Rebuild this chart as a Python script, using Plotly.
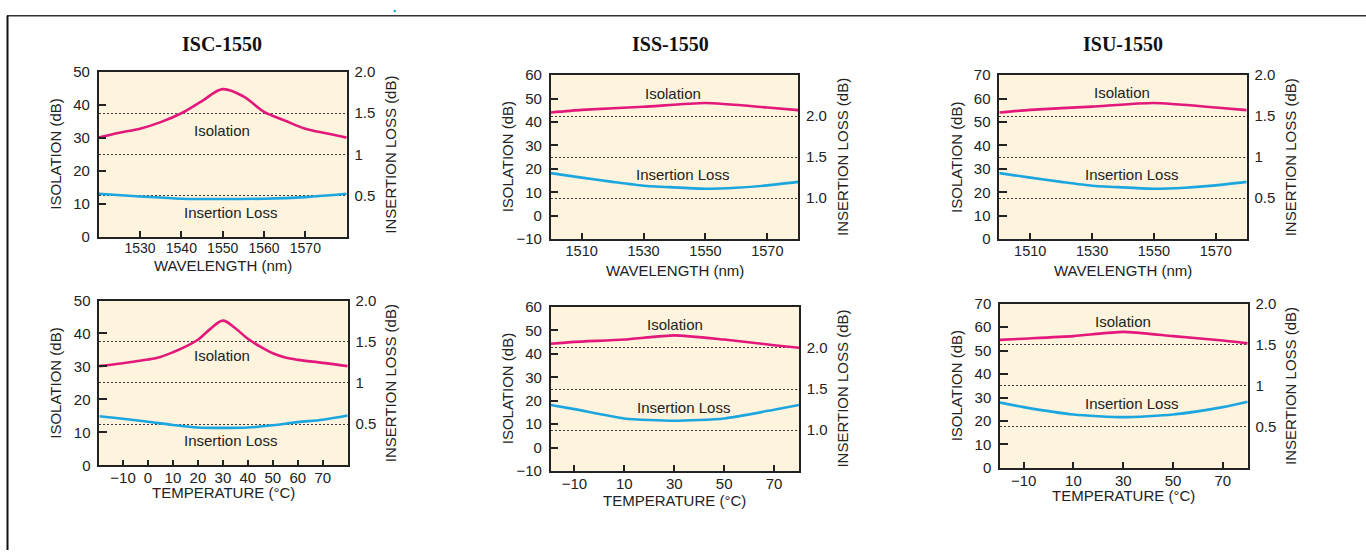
import plotly.graph_objects as go

W, H = 1366, 558

# ---------------- data ----------------
titles = ["ISC-1550", "ISS-1550", "ISU-1550"]

# ISC-1550 vs wavelength
isc_wl_x = [1520, 1525, 1530, 1535, 1540, 1545, 1550, 1555, 1560, 1565, 1570, 1575, 1580]
isc_wl_iso = [30.1, 31.6, 32.8, 34.8, 37.5, 41.2, 44.8, 42.6, 37.9, 35.3, 32.8, 31.4, 30.1]
isc_wl_x_il = [1520, 1530, 1540, 1550, 1560, 1570, 1580]
isc_wl_il = [0.522, 0.49, 0.463, 0.459, 0.463, 0.482, 0.522]

# ISS-1550 vs wavelength
iss_wl_x = [1500, 1510, 1530, 1550, 1570, 1580]
iss_wl_iso = [44.1, 45.2, 46.5, 48.1, 46.2, 45.1]
iss_wl_x_il = [1500, 1510, 1520, 1530, 1540, 1550, 1560, 1570, 1580]
iss_wl_il = [1.305, 1.25, 1.198, 1.151, 1.131, 1.115, 1.127, 1.155, 1.198]

# ISU-1550 vs wavelength
isu_wl_x = [1500, 1510, 1530, 1550, 1570, 1580]
isu_wl_iso = [54.1, 55.2, 56.6, 58.1, 56.2, 55.1]
isu_wl_x_il = [1500, 1510, 1520, 1530, 1540, 1550, 1560, 1570, 1580]
isu_wl_il = [0.805, 0.75, 0.698, 0.651, 0.631, 0.615, 0.627, 0.655, 0.698]

# ISC-1550 vs temperature
isc_t_x = [-19.5, -10, 0, 5, 10, 15, 20, 25, 30, 35, 40, 45, 50, 55, 60, 70, 80]
isc_t_iso = [30.1, 31.0, 32.1, 32.9, 34.3, 36.0, 38.1, 41.4, 43.9, 41.6, 38.4, 36.0, 34.0, 32.7, 32.0, 31.1, 30.1]
isc_t_x_il = [-19.5, -10, 0, 10, 20, 30, 40, 50, 60, 70, 80]
isc_t_il = [0.596, 0.565, 0.529, 0.49, 0.459, 0.455, 0.459, 0.486, 0.525, 0.553, 0.604]

# ISS-1550 vs temperature
iss_t_x = [-19.5, -10, 10, 30, 50, 70, 80]
iss_t_iso = [44.3, 45.1, 46.1, 47.9, 46.1, 43.7, 42.6]
iss_t_il = [1.307, 1.256, 1.142, 1.114, 1.142, 1.248, 1.307]

# ISU-1550 vs temperature
isu_t_x = [-19.5, -10, 10, 30, 50, 70, 80]
isu_t_iso = [54.6, 55.1, 56.2, 58.0, 56.2, 54.3, 53.1]
isu_t_il = [0.795, 0.74, 0.65, 0.618, 0.65, 0.74, 0.807]

# tick labels
wl_ticks_isc = [1530, 1540, 1550, 1560, 1570]
wl_ticks_other = [1510, 1530, 1550, 1570]
t_ticks_isc = [-10, 0, 10, 20, 30, 40, 50, 60, 70]
t_ticks_other = [-10, 10, 30, 50, 70]
il_ticks_a = [0.5, 1.0, 1.5, 2.0]
il_text_a = ["0.5", "1", "1.5", "2.0"]
il_ticks_b = [1.0, 1.5, 2.0]
il_text_b = ["1.0", "1.5", "2.0"]

# ---------------- styling ----------------
MAG = "#E2187B"
BLU = "#1BA6E0"
BG = "#FEF3DC"
INK = "#222222"
SANS = "Liberation Sans, Arial, sans-serif"

panels = [
    dict(xi=isc_wl_x, iso=isc_wl_iso, xl=isc_wl_x_il, il=isc_wl_il, box=(98.7, 346.7, 65, 235),
         xr=[1520, 1580], xt=wl_ticks_isc, xfs=14, yr=[0, 50], yt=list(range(0, 51, 10)),
         y2r=[0, 2.0], y2t=il_ticks_a, y2s=il_text_a, xlab="WAVELENGTH (nm)", xlab_dy=30,
         lab_iso=(1549.8, 32.3), lab_il=(1551.9, 7.35), smooth=1.0),
    dict(xi=iss_wl_x, iso=iss_wl_iso, xl=iss_wl_x_il, il=iss_wl_il, box=(550.7, 798.3, 68.3, 237.3),
         xr=[1500, 1580], xt=wl_ticks_other, xfs=14.5, yr=[-10, 60], yt=list(range(-10, 61, 10)),
         y2r=[0.5, 2.5], y2t=il_ticks_b, y2s=il_text_b, xlab="WAVELENGTH (nm)", xlab_dy=32.7,
         lab_iso=(1539.6, 52.4), lab_il=(1542.6, 17.5), smooth=0.6),
    dict(xi=isu_wl_x, iso=isu_wl_iso, xl=isu_wl_x_il, il=isu_wl_il, box=(999.3, 1246.7, 68.3, 237.3),
         xr=[1500, 1580], xt=wl_ticks_other, xfs=14.5, yr=[0, 70], yt=list(range(0, 71, 10)),
         y2r=[0, 2.0], y2t=il_ticks_a, y2s=il_text_a, xlab="WAVELENGTH (nm)", xlab_dy=32.7,
         lab_iso=(1539.8, 62.7), lab_il=(1542.6, 27.5), smooth=0.6),
    dict(xi=isc_t_x, iso=isc_t_iso, xl=isc_t_x_il, il=isc_t_il, box=(99.3, 347.7, 300.7, 470.7),
         xr=[-19.5, 80], xt=t_ticks_isc, xfs=15, yr=[0, 50], yt=list(range(0, 51, 10)),
         y2r=[0, 2.0], y2t=il_ticks_a, y2s=il_text_a, xlab="TEMPERATURE (°C)", xlab_dy=28.5,
         lab_iso=(29.5, 33.4), lab_il=(33.1, 7.6), smooth=1.0),
    dict(xi=iss_t_x, iso=iss_t_iso, xl=iss_t_x, il=iss_t_il, box=(550.7, 799.0, 307.3, 476.7),
         xr=[-19.5, 80], xt=t_ticks_other, xfs=15, yr=[-10, 60], yt=list(range(-10, 61, 10)),
         y2r=[0.5, 2.5], y2t=il_ticks_b, y2s=il_text_b, xlab="TEMPERATURE (°C)", xlab_dy=30,
         lab_iso=(30.3, 52.7), lab_il=(33.6, 17.1), smooth=0.6),
    dict(xi=isu_t_x, iso=isu_t_iso, xl=isu_t_x, il=isu_t_il, box=(1000.0, 1247.7, 304.0, 473.3),
         xr=[-19.5, 80], xt=t_ticks_other, xfs=15, yr=[0, 70], yt=list(range(0, 71, 10)),
         y2r=[0, 2.0], y2t=il_ticks_a, y2s=il_text_a, xlab="TEMPERATURE (°C)", xlab_dy=29,
         lab_iso=(30.1, 62.4), lab_il=(33.5, 27.4), smooth=0.6),
]


def fx(px):
    return px / W


def fy(py):
    return 1 - py / H


fig = go.Figure()
layout = dict(
    width=W, height=H, margin=dict(l=0, r=0, t=0, b=0),
    paper_bgcolor="white", plot_bgcolor=BG, showlegend=False,
    font=dict(family=SANS, size=15, color=INK),
)
annotations = []
shapes = []

for i, p in enumerate(panels):
    n = i + 1
    xa = "x" if n == 1 else f"x{n}"
    yl_n = 2 * n - 1
    yr_n = 2 * n
    yl = "y" if yl_n == 1 else f"y{yl_n}"
    yr = f"y{yr_n}"
    l, r, t, b = p["box"]

    layout["xaxis" if n == 1 else f"xaxis{n}"] = dict(
        domain=[fx(l), fx(r)], anchor=yl, range=p["xr"], tickvals=p["xt"],
        showline=True, mirror=True, linecolor=INK, linewidth=1.5,
        ticks="inside", ticklen=6, tickwidth=1.5, tickcolor=INK,
        showgrid=False, zeroline=False, ticklabelstandoff=-2,
        tickfont=dict(family=SANS, size=p["xfs"], color=INK),
    )
    layout["yaxis" if yl_n == 1 else f"yaxis{yl_n}"] = dict(
        domain=[fy(b), fy(t)], anchor=xa, range=p["yr"], tickvals=p["yt"],
        showline=True, linecolor=INK, linewidth=1.5,
        ticks="inside", ticklen=8, tickwidth=1.5, tickcolor=INK,
        showgrid=False, zeroline=False, ticklabelstandoff=4,
        tickfont=dict(family=SANS, size=15, color=INK),
    )
    layout[f"yaxis{yr_n}"] = dict(
        domain=[fy(b), fy(t)], anchor=xa, overlaying=yl, side="right",
        range=p["y2r"], tickvals=p["y2t"], ticktext=p["y2s"],
        showline=True, linecolor=INK, linewidth=1.5, ticks="",
        showgrid=True, gridcolor="#3a3a3a", gridwidth=1, griddash="2px,2px",
        zeroline=False, ticklabelstandoff=3,
        tickfont=dict(family=SANS, size=15, color=INK),
    )

    fig.add_trace(go.Scatter(
        x=p["xi"], y=p["iso"], xaxis=xa, yaxis=yl, mode="lines",
        line=dict(color=MAG, width=2.6, shape="spline", smoothing=p["smooth"]),
        name="Isolation", hoverinfo="x+y"))
    fig.add_trace(go.Scatter(
        x=p["xl"], y=p["il"], xaxis=xa, yaxis=yr, mode="lines",
        line=dict(color=BLU, width=2.6, shape="spline", smoothing=p["smooth"]),
        name="Insertion Loss", hoverinfo="x+y"))

    # in-plot curve labels
    annotations.append(dict(x=p["lab_iso"][0], y=p["lab_iso"][1], xref=xa, yref=yl,
                            text="Isolation", showarrow=False,
                            font=dict(family=SANS, size=15, color=INK)))
    annotations.append(dict(x=p["lab_il"][0], y=p["lab_il"][1], xref=xa, yref=yl,
                            text="Insertion Loss", showarrow=False,
                            font=dict(family=SANS, size=15, color=INK)))

    # axis titles
    cy = (t + b) / 2
    annotations.append(dict(x=fx(l - 43.5), y=fy(cy), xref="paper", yref="paper",
                            text="ISOLATION (dB)", textangle=-90, showarrow=False,
                            xanchor="center", yanchor="middle",
                            font=dict(family=SANS, size=15, color=INK)))
    annotations.append(dict(x=fx(r + 43.5), y=fy(cy), xref="paper", yref="paper",
                            text="INSERTION LOSS (dB)", textangle=-90, showarrow=False,
                            xanchor="center", yanchor="middle",
                            font=dict(family=SANS, size=15, color=INK)))
    annotations.append(dict(x=fx((l + r) / 2), y=fy(b + p["xlab_dy"]), xref="paper", yref="paper",
                            text=p["xlab"], showarrow=False, xanchor="center", yanchor="middle",
                            font=dict(family=SANS, size=15, color=INK)))

# column titles
for txt, cx in zip(titles, [222, 670, 1122.7]):
    annotations.append(dict(x=fx(cx), y=fy(36), xref="paper", yref="paper", text=f"<b>{txt}</b>",
                            showarrow=False, xanchor="center", yanchor="middle",
                            font=dict(family="Liberation Serif, Times New Roman, serif", size=20, color="#111")))

# page frame
shapes.append(dict(type="line", xref="paper", yref="paper", x0=fx(7), x1=1, y0=fy(7), y1=fy(7),
                   line=dict(color="#333", width=1.5)))
shapes.append(dict(type="line", xref="paper", yref="paper", x0=fx(7.5), x1=fx(7.5), y0=fy(7), y1=0,
                   line=dict(color="#111", width=2)))
shapes.append(dict(type="circle", xref="paper", yref="paper", x0=fx(393.5), x1=fx(396), y0=fy(0.8), y1=fy(3.3),
                   fillcolor="#1BA6E0", line=dict(width=0)))

layout["annotations"] = annotations
layout["shapes"] = shapes
fig.update_layout(**layout)

reset_js = (
    "var s=document.createElement('style');"
    "s.textContent='html,body{margin:0;padding:0;overflow:hidden;}';"
    "document.head.appendChild(s);"
)
fig.write_html("out.html", config={"displayModeBar": False}, post_script=reset_js)
